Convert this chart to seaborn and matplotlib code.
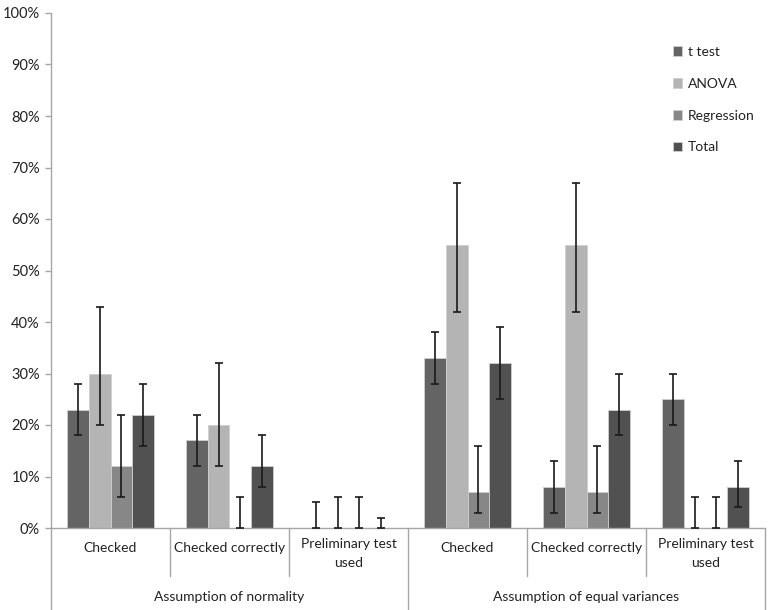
import pandas as pd
import seaborn as sns
import matplotlib.pyplot as plt
from matplotlib.ticker import PercentFormatter

# categories along the x axis (two levels)
groups = ["Assumption of normality", "Assumption of equal variances"]
subcats = ["Checked", "Checked correctly", "Preliminary test\nused"]
series = ["t test", "ANOVA", "Regression", "Total"]

# percentages per series, in order of the six categories
values = {
    "t test":     [23, 17, 0, 33, 8, 25],
    "ANOVA":      [30, 20, 0, 55, 55, 0],
    "Regression": [12, 0, 0, 7, 7, 0],
    "Total":      [22, 12, 0, 32, 23, 8],
}
# lower / upper ends of the error bars
err_low = {
    "t test":     [18, 12, 0, 28, 3, 20],
    "ANOVA":      [20, 12, 0, 42, 42, 0],
    "Regression": [6, 0, 0, 3, 3, 0],
    "Total":      [16, 8, 0, 25, 18, 4],
}
err_high = {
    "t test":     [28, 22, 5, 38, 13, 30],
    "ANOVA":      [43, 32, 6, 67, 67, 6],
    "Regression": [22, 6, 6, 16, 16, 6],
    "Total":      [28, 18, 2, 39, 30, 13],
}

colors = ["#646464", "#b4b4b4", "#878787", "#515151"]

cats = [f"{g}|{s}" for g in groups for s in subcats]
rows = []
for s in series:
    for i, c in enumerate(cats):
        rows.append({"cat": c, "series": s, "value": values[s][i]})
df = pd.DataFrame(rows)

sns.set_style("white")
plt.rcParams["font.family"] = ["Lato", "DejaVu Sans"]

fig = plt.figure(figsize=(7.68, 6.10), dpi=100)
ax = fig.add_axes([51 / 768, 82 / 610, 714 / 768, 515 / 610])

sns.barplot(data=df, x="cat", y="value", hue="series", order=cats,
            hue_order=series, palette=colors, width=0.73, errorbar=None,
            edgecolor="#cfcfcf", linewidth=0.6, ax=ax)

# error bars on top of each bar
for s, cont in zip(series, ax.containers):
    for i, p in enumerate(cont.patches):
        xc = p.get_x() + p.get_width() / 2
        v = values[s][i]
        ax.errorbar(xc, v, yerr=[[v - err_low[s][i]], [err_high[s][i] - v]],
                    fmt="none", ecolor="#1a1a1a", elinewidth=1.2,
                    capsize=3, capthick=1.2, zorder=5)

ax.set_ylim(0, 100)
ax.set_xlim(-0.5, len(cats) - 0.5)
ax.yaxis.set_major_formatter(PercentFormatter(decimals=0))
ax.set_yticks(range(0, 101, 10))
ax.tick_params(axis="y", length=4, width=1, color="#a6a6a6", left=True,
               labelsize=10.5, labelcolor="#222222", pad=4)
ax.set_xticks([])
ax.set_xlabel("")
ax.set_ylabel("")
for side in ["top", "right"]:
    ax.spines[side].set_visible(False)
for side in ["left", "bottom"]:
    ax.spines[side].set_color("#a6a6a6")
    ax.spines[side].set_linewidth(1)

# two-level category axis
tr = ax.get_xaxis_transform()
for i, c in enumerate(cats):
    label = c.split("|")[1]
    y = -0.049 if "\n" in label else -0.039
    ax.text(i, y, label, transform=tr, ha="center", va="center",
            fontsize=10, color="#222222", linespacing=1.7)
for b in range(len(cats) + 1):
    bottom = -0.159 if b % 3 == 0 else -0.093
    ax.plot([b - 0.5, b - 0.5], [0, bottom], transform=tr, color="#a6a6a6",
            lw=1, clip_on=False)
for gi, g in enumerate(groups):
    ax.text(gi * 3 + 1, -0.134, g, transform=tr, ha="center", va="center",
            fontsize=10, color="#222222")

ax.legend(loc="upper left", bbox_to_anchor=(0.853, 0.96), frameon=False,
          fontsize=10, handlelength=0.7, handleheight=0.7, handletextpad=0.4,
          labelspacing=1.42)
for t in ax.get_legend().get_texts():
    t.set_color("#222222")

fig.savefig("out.png", dpi=100)
